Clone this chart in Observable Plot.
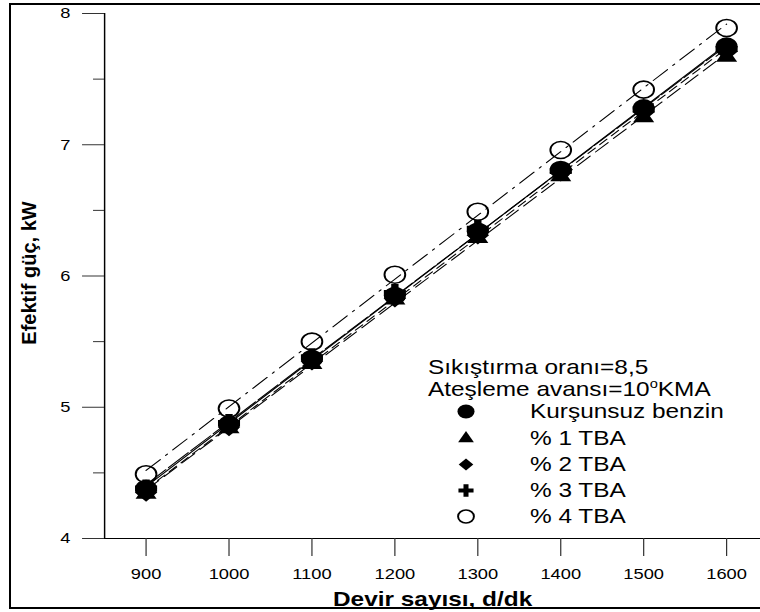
<!DOCTYPE html>
<html>
<head>
<meta charset="utf-8">
<script src="https://cdn.jsdelivr.net/npm/d3@7"></script>
<script src="https://cdn.jsdelivr.net/npm/@observablehq/plot@0.6"></script>
<style>
  html, body { margin: 0; padding: 0; background: #fff; }
  #wrap { position: relative; width: 760px; height: 612px; overflow: hidden; }
  #border { position: absolute; left: 9px; top: 3px; width: 780px; height: 606px; border: 2px solid #000; box-sizing: border-box; pointer-events: none; }
</style>
</head>
<body>
<div id="wrap"><div id="border"></div></div>
<script>
// ---- data ----
const rpm = [900, 1000, 1100, 1200, 1300, 1400, 1500, 1600];
const kursunsuz = [4.38, 4.87, 5.37, 5.85, 6.34, 6.81, 7.28, 7.75];
const tba1 = [4.34, 4.84, 5.33, 5.82, 6.29, 6.76, 7.21, 7.67];
const tba2 = [4.35, 4.85, 5.35, 5.83, 6.31, 6.79, 7.25, 7.71];
const tba3 = [4.38, 4.88, 5.38, 5.87, 6.36, 6.80, 7.27, 7.73];
const tba4 = [4.49, 4.99, 5.50, 6.01, 6.49, 6.96, 7.42, 7.89];
const seriesNames = ["Kurşunsuz benzin", "% 1 TBA", "% 2 TBA", "% 3 TBA", "% 4 TBA"];
const seriesValues = [kursunsuz, tba1, tba2, tba3, tba4];
const xTicks = [900, 1000, 1100, 1200, 1300, 1400, 1500, 1600];
const yTicks = [4, 5, 6, 7, 8];
const yMinorTicks = [4.5, 5.5, 6.5, 7.5];
const xDomain = [850, 1641];
const yDomain = [4, 8];
const xTitle = "Devir sayısı, d/dk";
const yTitle = "Efektif güç, kW";
const note1 = "Sıkıştırma oranı=8,5";
const note2 = ["Ateşleme avansı=10", "o", "KMA"];

// ---- styles ----
const S = 1.22;               // horizontal stretch of the original picture
const W = 760 / S;
const styles = [
  {symbol: "circle",   d3sym: d3.symbolCircle,   r: 9,   fill: "black", stroke: "none",  sw: 0,   dash: null,        lr: 7},
  {symbol: "triangle", d3sym: d3.symbolTriangle, r: 6.4, fill: "black", stroke: "none",  sw: 0,   dash: "14,6",      lr: 4.8},
  {symbol: "diamond2", d3sym: d3.symbolDiamond2, r: 8.3, fill: "black", stroke: "none",  sw: 0,   dash: "8,5",       lr: 5.4},
  {symbol: "cross",    d3sym: d3.symbolCross,    r: 7.6, fill: "black", stroke: "none",  sw: 0,   dash: "22,3",      lr: 5.2},
  {symbol: "circle",   d3sym: d3.symbolCircle,   r: 8.5, fill: "none",  stroke: "black", sw: 1.6, dash: "16,6,2,6",  lr: 6.5}
];

const rows = seriesNames.flatMap((name, i) => rpm.map((x, j) => ({rpm: x, power: seriesValues[i][j], series: name})));
const rowsOf = name => rows.filter(d => d.series === name);

const drawOrder = [4, 1, 2, 3, 0];

const plot = Plot.plot({
  width: W,
  height: 612,
  marginLeft: 104 / S,
  marginRight: 0,
  marginTop: 13,
  marginBottom: 74,
  style: {fontFamily: "'Liberation Sans', Arial, sans-serif", fontSize: "15px", color: "black", background: "white", overflow: "visible"},
  x: {domain: xDomain, label: null},
  y: {domain: yDomain, label: null},
  marks: [
    ...seriesNames.map((name, i) => Plot.linearRegressionY(rowsOf(name), {
      x: "rpm", y: "power", ci: 0, stroke: "black", strokeWidth: 1,
      strokeDasharray: styles[i].dash
    })),
    ...drawOrder.map(i => Plot.dot(rowsOf(seriesNames[i]), {
      x: "rpm", y: "power", symbol: styles[i].symbol, r: styles[i].r,
      fill: styles[i].fill, stroke: styles[i].stroke, strokeWidth: styles[i].sw
    })),
    Plot.ruleX([xDomain[0]], {stroke: "black", strokeWidth: 1.2}),
    Plot.ruleY([yDomain[0]], {stroke: "black", strokeWidth: 1.2}),
    Plot.axisY(yTicks, {tickSize: 18, tickPadding: 10, label: null, tickFormat: d3.format("d"), stroke: "#333"}),
    Plot.axisY(yMinorTicks, {tickSize: 9, label: null, tickFormat: () => "", stroke: "#333"}),
    Plot.axisX(xTicks, {tickSize: 18, tickPadding: 12, label: null, tickFormat: d3.format("d"), stroke: "#333"}),
    Plot.text([xTitle], {text: d => d, frameAnchor: "bottom", dy: 67, fontWeight: "bold", fontSize: 20, textAnchor: "middle"}),
    Plot.text([yTitle], {text: d => d, frameAnchor: "left", dx: -61.5, dy: -3, rotate: -90, fontWeight: "bold", fontSize: 20, textAnchor: "middle"})
  ]
});

// stretch horizontally like the original picture
plot.setAttribute("width", 760);
plot.setAttribute("height", 612);
plot.setAttribute("preserveAspectRatio", "none");
plot.style.width = "760px";
plot.style.height = "612px";
plot.style.maxWidth = "none";

// y title glyphs are not stretched in the original
d3.select(plot).selectAll("text").filter(function () { return this.textContent === yTitle; })
  .each(function () {
    const t = this.getAttribute("transform") || "";
    this.setAttribute("transform", t + " scale(1," + (1 / S) + ")");
  });

// legend
const lg = d3.select(plot).append("g")
  .attr("font-family", "'Liberation Sans', Arial, sans-serif")
  .attr("font-size", 20)
  .attr("text-anchor", "start")
  .attr("fill", "black");
const hx = 428 / S, sx = 466 / S, tx = 530 / S;
lg.append("text").attr("x", hx).attr("y", 374).text(note1);
const n2 = lg.append("text").attr("x", hx).attr("y", 396);
n2.append("tspan").text(note2[0]);
n2.append("tspan").attr("font-size", 12).attr("dy", -8).text(note2[1]);
n2.append("tspan").attr("dy", 8).text(note2[2]);
const baselines = [418.5, 445, 471.5, 497.5, 523];
const centers = [411.5, 438.5, 464.5, 490.5, 516.5];
seriesNames.forEach((name, i) => {
  const st = styles[i];
  lg.append("path")
    .attr("transform", `translate(${sx},${centers[i]})`)
    .attr("d", d3.symbol(st.d3sym, Math.PI * st.lr * st.lr)())
    .attr("fill", st.fill)
    .attr("stroke", st.stroke)
    .attr("stroke-width", st.sw);
  lg.append("text").attr("x", tx).attr("y", baselines[i]).text(name);
});

document.getElementById("wrap").prepend(plot);
</script>
</body>
</html>
